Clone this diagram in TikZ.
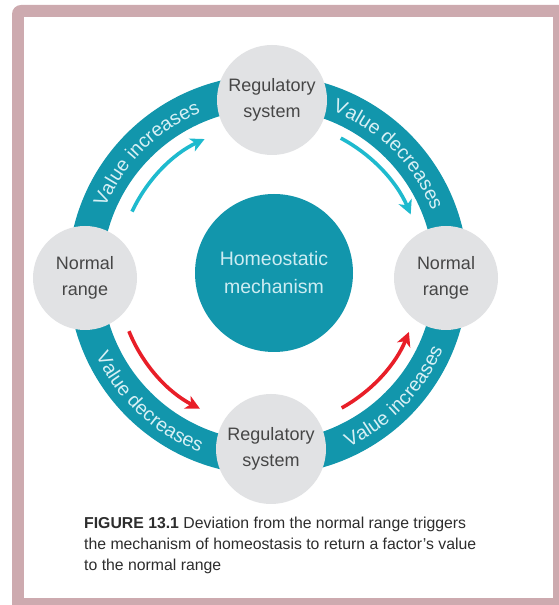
\documentclass[tikz,border=0pt]{standalone}
\usepackage{fontspec}
\setmainfont{Liberation Sans}
\usetikzlibrary{decorations.text,arrows.meta}
\definecolor{framepink}{RGB}{205,170,175}
\definecolor{ringteal}{RGB}{18,150,172}
\definecolor{circgray}{RGB}{225,226,228}
\definecolor{arrowcyan}{RGB}{30,186,206}
\definecolor{arrowred}{RGB}{232,30,40}
\definecolor{ringtxt}{RGB}{215,240,245}
\definecolor{centertxt}{RGB}{205,236,242}
\definecolor{circtxt}{RGB}{70,70,70}
\definecolor{captxt}{RGB}{45,45,45}
\newcommand\ringfont{\fontsize{19.5}{19.5}\selectfont\color{ringtxt}}
\tikzset{
  graycirc/.style={circle,fill=circgray,inner sep=0pt,minimum size=#1,
    text=circtxt,font=\fontsize{18}{26}\selectfont,align=center},
  feedarrow/.style={line width=3.6pt,draw=#1,
    -{Stealth[length=14pt,width=14pt,inset=4pt]}},
  ringlabel/.style={decorate,decoration={text along path,text align=center,
    text={|\ringfont|#1}}}
}
\begin{document}
\begin{tikzpicture}[x=1pt,y=1pt]
\useasboundingbox (0,0) rectangle (559,605);
% frame
\fill[framepink,rounded corners=9pt] (12,600) rectangle (580,-20);
\fill[white] (24,588) rectangle (553,7);
% ring
\coordinate (C) at (268,330);
\fill[ringteal,even odd rule] (C) circle[radius=200pt] (C) circle[radius=166pt];
% ring labels
\path[ringlabel={Value increases}] (C) ++(163:176pt) arc[start angle=163,end angle=107,radius=176pt];
\path[ringlabel={Value decreases}] (C) ++(73:176pt) arc[start angle=73,end angle=17,radius=176pt];
\path[ringlabel={Value decreases}] (C) ++(198:190pt) arc[start angle=198,end angle=256,radius=190pt];
\path[ringlabel={Value increases}] (C) ++(287:190pt) arc[start angle=287,end angle=345,radius=190pt];
% arrows
\draw[feedarrow=arrowcyan] (C) ++(155:150pt) arc[start angle=155,end angle=115,radius=150pt];
\draw[feedarrow=arrowcyan] (C) ++(62:155pt) arc[start angle=62,end angle=23,radius=155pt];
\draw[feedarrow=arrowred] (C) ++(202:150pt) arc[start angle=202,end angle=243,radius=150pt];
\draw[feedarrow=arrowred] (C) ++(299:152pt) arc[start angle=299,end angle=338,radius=152pt];
% circles
\node[graycirc=110pt] (top) at (272,505) {Regulatory\\system};
\node[graycirc=110pt] (bottom) at (271,156) {Regulatory\\system};
\node[graycirc=104pt] (left) at (85,327) {Normal\\range};
\node[graycirc=104pt] (right) at (446,327) {Normal\\range};
\node[circle,fill=ringteal,inner sep=0pt,minimum size=158pt,text=centertxt,
  font=\fontsize{19.5}{28}\selectfont,align=center] (center) at (274,332)
  {Homeostatic\\mechanism};
% caption
\node[anchor=north west,align=left,text=captxt,inner sep=0pt,
  font=\fontsize{15.8}{21}\selectfont] (caption) at (84,88)
  {\textbf{FIGURE 13.1} Deviation from the normal range triggers\\
   the mechanism of homeostasis to return a factor's value\\
   to the normal range};
\end{tikzpicture}
\end{document}
